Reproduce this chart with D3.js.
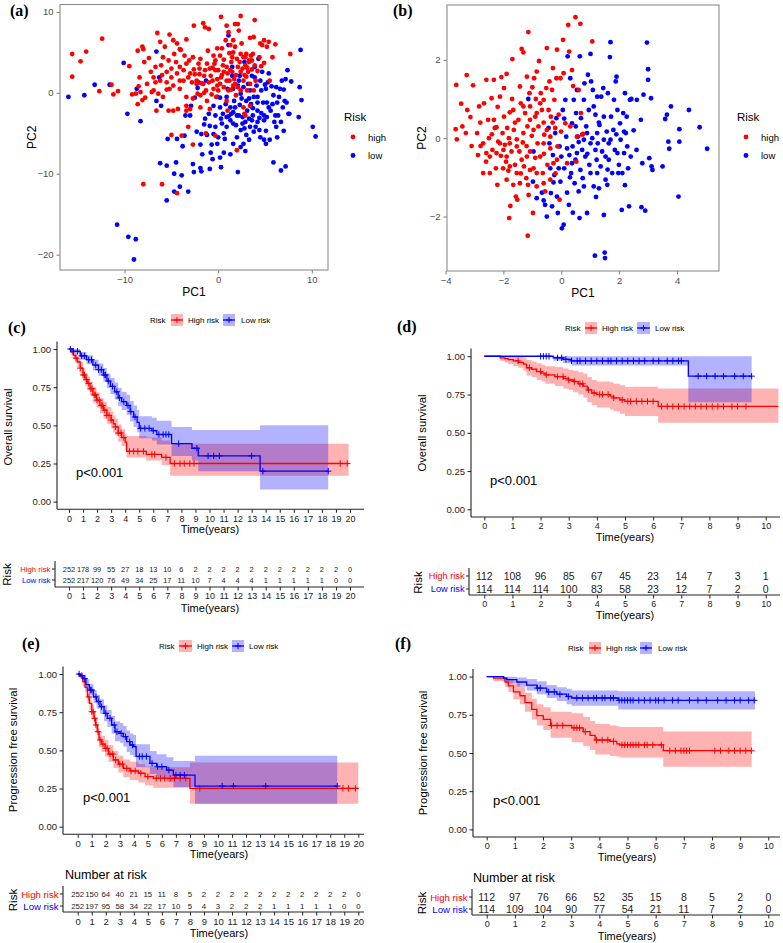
<!DOCTYPE html>
<html><head><meta charset="utf-8">
<script src="https://cdn.jsdelivr.net/npm/d3@7"></script>
<style>body{margin:0;background:#fff}svg{display:block}</style>
</head><body><script>
// ---------- DATA ----------
const riskGroups = ["high","low"];
const aHigh = [[-15.6,4.8],[-14.7,3.9],[-14.1,5.1],[-15.6,2.0],[-12.4,6.7],[-12.7,0.2],[-11.4,1.0],[-11.2,-0.2],[-10.7,0.2],[-9.5,3.3],[-9.2,-0.2],[-8.8,-0.1],[-8.6,5.2],[-8.5,0.8],[-8.4,1.9],[-8.3,0.1],[-8.6,-1.4],[-8.1,-0.9],[-8.1,5.7],[-7.9,3.8],[-8.0,5.4],[-7.2,2.6],[-7.4,4.3],[-7.1,0.1],[-6.9,0.3],[-6.7,1.3],[-6.5,7.4],[-6.4,-0.1],[-6.2,6.3],[-6.1,3.4],[-5.9,-0.5],[-5.7,5.7],[-5.5,2.6],[-5.3,4.0],[-5.2,7.2],[-5.2,0.5],[-5.5,1.3],[-5.0,1.9],[-4.8,-2.2],[-5.0,-5.2],[-4.7,4.8],[-4.4,6.1],[-4.5,3.8],[-4.3,-2.0],[-4.1,3.2],[-4.1,1.5],[-4.0,5.3],[-3.9,-5.3],[-3.7,2.8],[-3.6,4.6],[-3.4,6.6],[-3.4,-1.6],[-3.2,-4.2],[-3.1,4.0],[-3.0,-2.0],[-2.8,1.3],[-2.7,-0.7],[-2.6,8.3],[-2.5,2.3],[-2.3,1.1],[-2.1,3.6],[-2.0,2.3],[-1.9,-1.8],[-1.8,1.2],[-1.6,8.6],[-1.5,2.1],[-1.4,8.1],[-1.3,0.3],[-1.2,3.6],[-1.1,5.2],[-1.0,7.9],[-1.0,1.3],[-0.9,-2.0],[-0.8,2.1],[-0.6,3.1],[-0.5,0.5],[-0.3,4.0],[-0.2,-0.5],[-0.1,1.7],[0.0,2.8],[0.2,4.6],[0.3,9.4],[0.4,5.5],[0.5,3.4],[0.6,0.7],[0.8,6.5],[0.9,1.5],[0.9,8.3],[1.0,-2.2],[1.1,7.5],[1.1,0.3],[1.3,5.9],[1.4,3.8],[1.5,2.6],[1.6,0.9],[1.6,5.0],[1.7,1.7],[1.8,8.5],[1.9,-0.3],[2.0,-7.1],[2.1,3.2],[2.1,8.5],[2.2,7.7],[2.4,9.5],[2.4,4.8],[2.5,6.1],[2.7,4.4],[2.7,1.5],[2.8,-2.6],[2.9,3.4],[3.0,4.8],[3.1,0.3],[3.2,2.6],[3.3,3.8],[3.4,1.1],[3.4,6.8],[3.5,4.6],[3.6,2.9],[3.7,4.8],[3.8,0.3],[3.9,9.0],[4.0,1.5],[4.2,2.7],[4.7,5.9],[4.9,3.7],[4.9,6.5],[5.2,5.7],[5.4,6.3],[5.5,1.5],[7.7,4.8],[-8.0,-11.3],[-6.0,-11.3],[-4.4,-12.4],[-2.7,-6.4],[-1.3,-5.0],[-0.3,-5.3],[2.9,-2.8],[-0.6,1.5],[-0.1,0.9],[0.3,1.9],[0.6,2.6],[1.2,1.5],[1.3,2.8],[1.8,1.1],[2.3,3.8],[2.4,2.6],[2.6,3.0],[2.9,4.4],[3.3,4.0],[3.6,4.0],[2.4,0.3],[1.8,5.7],[1.5,4.4],[0.9,3.2],[0.2,1.1],[-0.3,2.8],[-0.9,3.0],[-1.6,1.1],[-2.3,1.5],[-3.2,1.9],[-3.7,1.5],[-4.1,0.5],[-4.8,0.9],[-5.5,0.4],[-6.2,1.5],[-6.9,1.9],[-5.9,4.4],[-6.7,3.2],[-3.4,3.6],[-2.7,4.4],[-1.9,4.2],[-0.5,4.6],[-0.1,5.5],[1.6,6.5],[3.8,6.9],[4.5,6.1],[-3.4,-2.2],[-1.9,-0.3],[-1.2,-1.0],[0.9,-1.0],[2.7,-1.8],[3.4,-1.6],[-3.4,-0.5],[-5.3,-2.2],[-6.6,-2.2],[-4.1,5.4],[-4.8,6.5],[0.4,2.2],[1.0,2.4],[1.9,2.2],[2.0,4.2],[2.8,2.2],[3.1,3.1],[3.9,3.4],[4.4,4.4],[1.2,4.9],[0.6,4.1],[-0.4,3.6],[-1.4,2.8],[-2.0,3.0],[-2.6,2.9],[-3.0,2.4],[-4.4,2.4],[-5.0,3.0],[-6.0,2.2],[-7.6,1.1],[-7.8,-0.6],[1.4,0.4],[2.1,0.7],[0.0,0.3],[-0.7,-0.2],[-1.5,0.0],[-2.2,-0.1],[3.0,2.0],[4.6,3.3],[5.8,4.4],[6.1,6.0]];
const aLow = [[-16.0,-0.5],[-14.3,-0.3],[-13.2,1.0],[-11.6,1.0],[-10.1,3.7],[-9.7,-2.6],[-8.7,0.5],[-8.3,-3.5],[-10.8,-16.3],[-9.6,-17.8],[-8.8,-18.1],[-9.0,-20.6],[-6.6,-1.0],[-6.6,5.1],[-6.3,1.9],[-6.1,-1.6],[-5.4,-5.7],[-6.2,-8.7],[-5.5,-9.0],[-4.7,-10.0],[-4.5,-8.6],[-3.9,-10.2],[-4.7,-12.2],[-4.1,-11.6],[-5.5,-13.3],[-3.2,-12.2],[-4.4,-5.7],[-3.6,-5.3],[-3.5,-2.8],[-3.8,-6.6],[-3.0,-2.8],[-2.9,-1.6],[-2.7,-8.8],[-2.6,-9.8],[-1.9,-9.3],[-1.8,-9.7],[-2.5,-0.6],[-2.2,0.6],[-2.1,1.3],[-1.8,-5.1],[-1.7,-7.6],[-1.5,-3.9],[-1.4,-3.2],[-1.3,1.5],[-1.2,-5.2],[-0.9,-9.4],[-0.8,-7.4],[-0.7,-6.4],[-0.6,-8.2],[-0.5,-5.1],[-0.3,-4.2],[-0.3,-2.8],[-0.1,-0.5],[-0.1,-6.3],[0.0,-5.5],[0.2,-0.6],[0.3,-9.2],[0.4,-3.8],[0.5,-2.6],[0.6,-7.4],[0.6,-5.0],[0.9,-3.0],[0.9,-0.5],[1.0,0.5],[1.1,7.1],[1.1,5.9],[1.3,-3.4],[1.4,-2.6],[1.5,2.1],[1.5,3.2],[1.6,0.5],[1.7,-1.0],[1.8,-1.8],[1.9,-4.0],[2.0,-5.5],[2.1,-9.8],[2.1,0.9],[2.2,-2.8],[2.3,2.1],[2.4,-0.1],[2.4,-6.7],[2.5,-0.7],[2.6,-3.8],[2.7,-6.3],[2.8,3.8],[2.9,-7.2],[3.0,-5.2],[3.1,-2.2],[3.2,1.1],[3.3,-0.7],[3.3,-3.2],[3.4,-4.2],[3.5,-1.4],[3.6,2.1],[3.7,-2.8],[3.8,-0.5],[3.9,3.2],[4.0,-4.2],[4.1,0.9],[4.2,-2.2],[4.2,-1.2],[4.3,4.2],[4.4,-3.1],[4.5,-5.5],[4.6,0.3],[4.7,2.6],[4.8,-1.2],[4.9,-5.8],[4.9,-2.8],[5.1,-4.7],[5.1,-6.3],[5.2,-1.2],[5.3,1.3],[5.4,2.4],[5.5,-5.8],[5.7,0.8],[5.8,-1.4],[5.9,-8.6],[5.9,-0.3],[6.1,-2.8],[6.2,0.7],[6.2,-4.2],[6.3,-5.5],[6.4,-2.8],[6.5,-0.5],[6.6,0.5],[6.7,-9.6],[6.7,-3.6],[6.8,1.5],[6.9,-1.8],[7.0,-4.7],[7.1,-1.0],[7.2,-9.1],[7.2,1.7],[7.3,-1.2],[7.4,2.8],[7.5,-2.6],[7.6,-2.6],[7.8,1.4],[8.6,-3.0],[8.7,0.7],[8.8,5.3],[8.9,-0.9],[10.1,-4.2],[10.4,-5.4],[1.6,-2.4],[1.3,-1.8],[2.0,-2.8],[2.6,-3.0],[2.9,-3.6],[3.6,-3.4],[4.2,-3.6],[4.9,-3.4],[5.2,-3.0],[5.6,-2.2],[4.2,-0.5],[3.4,0.3],[2.7,0.7],[2.2,1.5],[4.5,1.5],[5.1,0.5],[0.8,-1.4],[0.2,-1.8],[-0.5,-1.6],[1.6,-3.8],[0.9,-4.2],[2.4,-4.6],[3.8,-4.8],[3.3,-5.8],[1.6,-6.3],[1.3,-7.6],[0.2,-8.0],[-1.9,-6.4],[-2.3,-4.8],[-1.0,-2.6],[3.0,-1.0],[3.7,-1.9],[4.6,-2.5],[5.4,-1.8],[6.0,-3.6],[2.3,-1.5],[1.1,-2.9],[0.3,-3.2],[3.9,1.9],[5.0,1.0],[6.3,-1.2],[7.0,0.4],[2.8,-4.4],[4.4,-4.6],[0.7,-5.7],[-0.9,-4.1]];
const bHigh = [[-3.63,1.36],[-3.61,-0.03],[-3.65,0.23],[-3.46,0.88],[-3.42,0.30],[-3.30,0.13],[-3.27,1.61],[-3.25,0.72],[-3.14,0.54],[-3.05,1.35],[-2.91,0.13],[-2.88,-0.43],[-2.84,0.81],[-2.79,-0.20],[-2.70,-0.89],[-2.67,0.89],[-2.59,1.49],[-2.53,0.47],[-2.50,0.0],[-2.47,-0.89],[-2.41,1.02],[-2.38,-0.30],[-2.33,1.49],[-2.30,0.26],[-2.26,-0.77],[-2.24,0.28],[-2.21,-1.19],[-2.18,-0.09],[-2.12,1.06],[-2.09,-0.45],[-2.07,1.56],[-2.03,0.13],[-2.01,-0.77],[-1.98,1.28],[-1.95,-0.17],[-1.91,-0.60],[-1.89,1.64],[-1.87,0.26],[-1.83,-0.83],[-1.81,0.0],[-1.80,-2.04],[-1.78,0.66],[-1.76,-1.73],[-1.72,-0.34],[-1.69,2.02],[-1.66,-1.19],[-1.64,0.21],[-1.60,-0.68],[-1.57,-1.49],[-1.54,-0.03],[-1.52,-1.57],[-1.48,0.47],[-1.45,-0.34],[-1.43,1.32],[-1.40,0.89],[-1.37,2.28],[-1.33,-0.11],[-1.31,2.19],[-1.29,-0.72],[-1.25,0.64],[-1.21,-1.02],[-1.19,1.57],[-1.17,0.30],[-1.15,-1.19],[-1.14,2.71],[-1.13,-1.45],[-1.10,1.15],[-1.08,-0.34],[-1.16,-2.49],[-1.02,0.06],[-0.98,-1.91],[-0.96,-0.77],[-0.94,1.53],[-0.90,0.55],[-0.88,1.00],[-0.85,1.70],[-0.82,-0.13],[-0.79,0.30],[-0.77,1.97],[-0.73,-0.47],[-0.71,1.15],[-0.67,0.72],[-0.64,-0.89],[-0.61,0.40],[-0.59,0.09],[-0.56,-1.36],[-0.52,1.28],[-0.50,2.30],[-0.48,-0.68],[-0.44,0.72],[-0.41,1.45],[-0.38,-0.26],[-0.36,0.55],[-0.32,1.23],[-0.29,1.79],[-0.27,-0.64],[-0.24,0.98],[-0.21,0.26],[-0.17,1.53],[-0.15,2.26],[-0.13,-0.21],[-0.09,0.60],[-0.06,-1.57],[-0.03,1.53],[-0.01,0.17],[0.06,2.51],[0.08,1.66],[0.14,0.38],[0.20,-0.64],[0.24,2.89],[0.27,2.21],[0.31,0.30],[0.37,1.74],[0.41,1.33],[0.49,3.09],[0.52,-0.60],[0.60,1.23],[0.66,2.92],[0.68,0.64],[0.72,0.09],[0.75,0.11],[1.07,2.47],[0.54,0.04],[-2.47,-0.47],[-2.24,-0.38],[-1.89,-0.47],[-1.78,-0.72],[-1.54,-0.89],[-1.37,-0.55],[-1.19,-0.47],[-1.08,-0.81],[-0.85,-0.89],[-1.31,0.13],[-1.08,0.47],[-0.85,0.64],[-0.73,0.89],[-0.61,0.98],[-0.50,0.21],[-0.38,0.04],[-0.96,0.21],[-1.54,-0.21],[-1.78,-0.13],[-2.12,-0.13],[-2.70,-0.13],[-2.59,-0.38],[-2.33,0.47],[-1.98,0.55],[-1.66,0.72],[-1.31,0.81],[-1.08,0.81],[-0.61,-0.13],[-0.15,-0.55],[-0.38,-1.06],[-0.61,-1.15],[-0.85,-1.23],[-1.43,-1.15],[-1.89,-1.06],[-2.0,-0.3],[-1.6,0.4],[-1.2,-0.2],[-0.9,-0.5],[-2.4,0.1],[-2.8,0.4],[-3.1,-0.2],[-1.7,1.0],[-0.3,0.4],[-0.6,-0.4],[-1.0,1.3],[-2.2,0.8],[-1.4,-0.9],[-0.2,-0.9],[-2.6,-0.6]];
const bLow = [[-1.14,1.00],[-0.96,-0.34],[-0.98,-1.11],[-0.85,-1.53],[-0.67,-1.39],[-0.61,-1.59],[-0.56,-1.70],[-0.50,-2.00],[-0.44,0.26],[-0.41,-0.13],[-0.38,-0.77],[-0.36,-1.40],[-0.32,-1.74],[-0.29,-0.43],[-0.27,-1.13],[-0.24,-0.94],[-0.21,0.13],[-0.17,0.51],[-0.15,-1.49],[-0.12,-1.91],[-0.09,-0.77],[-0.06,-0.21],[-0.03,-1.11],[0.0,-0.47],[0.02,-2.30],[0.05,0.72],[0.08,-2.21],[0.10,-0.77],[0.14,0.98],[0.17,0.04],[0.20,-1.39],[0.22,2.09],[0.26,-1.70],[0.28,-0.43],[0.31,1.53],[0.34,-0.89],[0.37,0.38],[0.39,-0.21],[0.43,0.98],[0.46,-1.15],[0.49,-0.55],[0.51,0.64],[0.54,1.23],[0.57,0.04],[0.60,-1.36],[0.63,-2.04],[0.64,2.09],[0.66,-0.81],[0.68,0.51],[0.72,-0.30],[0.74,-1.02],[0.78,0.98],[0.80,1.40],[0.83,-0.47],[0.86,0.30],[0.89,-1.91],[0.92,1.62],[0.95,0.72],[0.97,-0.68],[1.01,2.15],[1.03,1.45],[1.07,0.0],[1.09,1.23],[1.12,-1.23],[1.16,-3.00],[1.18,0.60],[1.22,-0.55],[1.24,1.06],[1.26,-0.13],[1.30,-1.28],[1.32,0.34],[1.36,-0.72],[1.38,1.06],[1.41,-0.34],[1.45,1.28],[1.47,-1.96],[1.50,-2.92],[1.51,-3.06],[1.53,-1.06],[1.57,0.17],[1.59,-1.19],[1.61,1.15],[1.64,-0.55],[1.68,2.07],[1.70,2.45],[1.72,0.55],[1.76,-0.89],[1.80,0.21],[1.82,0.98],[1.85,-0.30],[1.88,1.45],[1.91,1.57],[1.94,0.72],[1.97,-0.89],[1.99,-0.68],[2.03,0.38],[2.05,-0.04],[2.09,-1.83],[2.11,-0.89],[2.14,0.64],[2.17,0.17],[2.20,1.15],[2.23,0.13],[2.26,0.55],[2.28,-0.21],[2.31,-0.77],[2.34,-1.74],[2.37,0.98],[2.40,-0.47],[2.42,1.00],[2.61,0.98],[2.75,0.47],[2.77,-1.76],[2.80,-0.64],[2.84,1.11],[2.90,-1.85],[2.96,2.44],[3.00,1.76],[3.00,1.49],[3.04,-0.51],[3.10,1.02],[3.12,-0.72],[3.15,-0.81],[3.50,-0.72],[3.59,0.49],[3.65,0.60],[3.70,-0.09],[3.73,-0.27],[3.79,0.81],[4.05,-1.49],[4.08,0.23],[4.08,-0.09],[4.41,0.72],[4.78,0.28],[5.04,-0.27],[0.20,-0.26],[0.37,-0.64],[0.54,-0.38],[0.78,-0.04],[1.01,-0.13],[0.89,0.13],[1.24,0.13],[1.47,-0.04],[1.64,-0.13],[1.18,-0.30],[1.53,-0.47],[1.01,-0.89],[1.24,-0.89],[0.78,-1.23],[1.70,-0.04],[1.94,-0.38],[1.47,0.55],[1.12,0.81],[2.17,-0.38],[0.3,-1.0],[0.6,-0.1],[0.9,-0.4],[1.3,0.4],[1.6,-0.8],[1.9,0.1],[2.5,0.2],[2.6,-0.3],[0.1,0.5],[0.5,0.3],[1.2,-1.5],[0.4,-1.9],[2.2,-1.2]];
const aXTicks = [-10,0,10], aYTicks = [-20,-10,0,10];
const bXTicks = [-4,-2,0,2,4], bYTicks = [-2,0,2];

const survTicks = [0,0.25,0.5,0.75,1];
const years20 = d3.range(0,21), years10 = d3.range(0,11);
// (c) overall survival, training set
const cHighT=[0,0.15,0.3,0.45,0.6,0.8,1.0,1.15,1.3,1.5,1.7,1.95,2.2,2.45,2.7,3.0,3.15,3.3,3.5,3.75,4.0,4.1,5.5,6.6,7.2];
const cHighS=[1,0.98,0.96,0.94,0.915,0.875,0.83,0.80,0.775,0.74,0.70,0.665,0.63,0.60,0.565,0.535,0.51,0.49,0.45,0.42,0.39,0.33,0.31,0.29,0.25];
const cHighLo=[1,0.96,0.935,0.91,0.88,0.84,0.79,0.76,0.73,0.695,0.65,0.615,0.58,0.545,0.51,0.48,0.455,0.435,0.395,0.365,0.335,0.29,0.27,0.24,0.17];
const cHighHi=[1,1,0.985,0.97,0.95,0.915,0.875,0.845,0.82,0.785,0.75,0.715,0.68,0.655,0.62,0.59,0.565,0.545,0.505,0.475,0.445,0.43,0.42,0.40,0.38];
const cHighEnd=19.9;
const cHighCens=[0.5,0.8,1.0,1.1,1.25,1.4,1.55,1.65,1.8,1.9,2.0,2.15,2.3,2.4,2.55,2.7,2.85,3.0,3.3,3.5,3.7,3.9,4.3,4.6,4.9,5.3,5.9,6.1,6.9,7.5,7.9,8.2,8.6,8.9,19.3,19.8];
const cLowT=[0,0.3,0.8,1.25,1.7,2.1,2.45,2.7,2.95,3.25,3.5,3.75,4.1,4.35,4.6,4.85,5.0,5.9,6.25,7.3,8.75,9.2,13.6];
const cLowS=[1,0.985,0.955,0.93,0.895,0.865,0.83,0.79,0.755,0.72,0.68,0.655,0.63,0.59,0.555,0.52,0.48,0.465,0.44,0.38,0.35,0.30,0.20];
const cLowLo=[1,0.97,0.93,0.90,0.86,0.825,0.785,0.745,0.705,0.67,0.625,0.60,0.57,0.525,0.49,0.455,0.415,0.40,0.375,0.30,0.27,0.20,0.08];
const cLowHi=[1,1,0.98,0.96,0.93,0.905,0.875,0.84,0.81,0.78,0.745,0.72,0.70,0.66,0.63,0.60,0.56,0.55,0.53,0.49,0.47,0.47,0.50];
const cLowEnd=18.45;
const cLowCens=[0.1,0.3,0.6,0.9,1.1,1.4,1.6,1.9,2.1,2.3,2.5,2.6,2.8,3.1,3.4,3.6,3.9,4.2,4.4,4.7,5.1,5.4,5.7,6.0,6.4,6.7,6.9,7.1,7.8,9.1,9.9,10.3,10.7,13.0,13.8,18.45];
const cRiskHigh=[252,178,99,55,27,18,13,10,6,2,2,2,2,2,2,2,2,2,2,2,0];
const cRiskLow=[252,217,120,76,49,34,25,17,11,10,7,4,4,4,1,1,1,1,1,0,0];
// (d) overall survival, validation set
const dHighT=[0,0.56,0.73,0.85,1.03,1.21,1.39,1.5,1.68,1.86,2.04,2.16,2.51,2.81,2.99,3.16,3.34,3.52,3.66,3.82,4.0,4.47,4.59,4.82,5.0,6.18];
const dHighS=[1,0.99,0.985,0.978,0.97,0.96,0.948,0.925,0.915,0.90,0.89,0.878,0.867,0.855,0.845,0.835,0.82,0.805,0.78,0.76,0.75,0.74,0.728,0.715,0.705,0.672];
const dHighLo=[1,0.97,0.96,0.95,0.935,0.925,0.905,0.875,0.865,0.845,0.835,0.82,0.805,0.79,0.78,0.765,0.75,0.73,0.70,0.68,0.665,0.65,0.64,0.625,0.61,0.565];
const dHighHi=[1,1,1,1,1,0.995,0.99,0.975,0.965,0.955,0.945,0.935,0.93,0.92,0.91,0.905,0.895,0.885,0.865,0.845,0.835,0.83,0.82,0.81,0.80,0.79];
const dHighEnd=10.45;
const dHighCens=[1.2,1.6,2.0,2.2,2.6,2.8,3.0,3.2,3.4,3.5,3.7,3.9,4.1,4.2,4.4,4.6,4.9,5.1,5.2,5.4,5.6,5.8,6.0,6.3,6.5,6.7,6.9,7.1,7.3,7.5,7.7,7.9,8.1,8.3,8.5,8.8,9.0,9.3];
const dLowT=[0,2.45,2.8,3.1,7.25];
const dLowS=[1,0.99,0.98,0.97,0.87];
const dLowLo=[1,0.97,0.955,0.94,0.70];
const dLowHi=[1,1,1,1,1];
const dLowEnd=9.5;
const dLowCens=[2.0,2.1,2.2,2.3,2.6,2.75,2.9,3.1,3.3,3.4,3.6,3.8,4.0,4.2,4.4,4.5,4.7,4.9,5.1,5.3,5.5,5.7,6.0,6.2,6.5,6.7,6.9,7.0,7.6,7.9,8.2,8.5,8.9,9.2,9.5];
const dRiskHigh=[112,108,96,85,67,45,23,14,7,3,1];
const dRiskLow=[114,114,114,100,83,58,23,12,7,2,0];
// (e) progression free survival, training set
const eHighT=[0,0.17,0.36,0.52,0.69,0.83,1.0,1.16,1.28,1.4,1.52,1.71,1.95,2.19,2.54,2.9,3.25,3.73,4.32,4.8,5.39,8.0];
const eHighS=[1,0.985,0.95,0.913,0.85,0.808,0.753,0.71,0.666,0.622,0.568,0.541,0.513,0.476,0.437,0.41,0.382,0.365,0.35,0.328,0.317,0.251];
const eHighLo=[1,0.97,0.92,0.88,0.81,0.765,0.71,0.665,0.62,0.575,0.52,0.49,0.46,0.425,0.385,0.355,0.325,0.305,0.29,0.27,0.255,0.15];
const eHighHi=[1,1,0.98,0.95,0.89,0.85,0.80,0.76,0.715,0.67,0.62,0.595,0.57,0.535,0.495,0.465,0.44,0.425,0.41,0.395,0.39,0.42];
const eHighEnd=20;
const eHighCens=[0.8,1.0,1.1,1.2,1.3,1.45,1.6,1.8,2.0,2.1,2.3,2.5,2.7,3.0,3.2,3.5,3.8,4.1,4.5,5.0,5.6,5.9,6.2,6.6,6.9,7.3,7.7,8.7,18.9,19.3,19.8];
const eLowT=[0,0.17,0.36,0.59,0.83,1.12,1.35,1.59,1.88,2.11,2.42,2.66,3.02,3.25,3.49,3.73,3.97,4.16,5.15,5.63,6.34,6.82,8.36];
const eLowS=[1,0.99,0.97,0.93,0.895,0.85,0.82,0.786,0.742,0.71,0.666,0.622,0.611,0.59,0.557,0.535,0.524,0.46,0.415,0.393,0.371,0.338,0.266];
const eLowLo=[1,0.975,0.945,0.90,0.86,0.81,0.775,0.74,0.69,0.655,0.61,0.56,0.55,0.525,0.49,0.47,0.455,0.39,0.345,0.32,0.295,0.26,0.15];
const eLowHi=[1,1,0.995,0.965,0.935,0.895,0.865,0.835,0.795,0.765,0.725,0.69,0.68,0.66,0.63,0.61,0.60,0.54,0.495,0.475,0.455,0.43,0.465];
const eLowEnd=18.5;
const eLowCens=[0.1,0.3,0.5,0.9,1.0,1.3,1.5,1.7,2.0,2.3,2.6,2.8,3.1,3.4,3.7,3.9,4.4,4.6,4.9,5.3,5.7,6.0,6.5,7.0,7.3,7.6,10.3,11.1,13.4,18.5];
const eRiskHigh=[252,150,64,40,21,15,11,8,5,2,2,2,2,2,2,2,2,2,2,2,0];
const eRiskLow=[252,197,95,58,34,22,17,10,5,4,3,2,2,2,1,1,1,1,1,0,0];
// (f) progression free survival, validation set
const fHighT=[0,0.24,0.65,0.77,0.95,1.18,1.36,1.6,1.78,2.01,2.27,3.02,3.43,3.67,3.85,4.38,4.62,4.73,6.27];
const fHighS=[1,0.99,0.965,0.94,0.90,0.875,0.83,0.785,0.745,0.72,0.68,0.665,0.64,0.615,0.585,0.576,0.56,0.553,0.515];
const fHighLo=[1,0.97,0.93,0.90,0.85,0.82,0.77,0.72,0.68,0.65,0.60,0.57,0.545,0.52,0.49,0.48,0.475,0.47,0.41];
const fHighHi=[1,1,0.995,0.985,0.955,0.935,0.895,0.855,0.82,0.80,0.77,0.76,0.735,0.71,0.69,0.68,0.675,0.67,0.64];
const fHighEnd=9.41;
const fHighCens=[2.3,2.5,2.7,3.1,3.2,3.3,3.5,3.9,4.1,4.3,4.5,4.8,4.9,5.0,5.1,5.2,5.3,5.4,5.6,5.7,5.9,6.2,6.5,6.7,6.9,7.0,7.1,7.2,8.1,8.3,8.6,8.8,9.0,9.2,9.4];
const fLowT=[0,0.6,0.71,1.07,1.42,1.78,2.13,2.49,2.84,3.02,4.67];
const fLowS=[1,0.99,0.98,0.965,0.945,0.925,0.90,0.885,0.87,0.86,0.845];
const fLowLo=[1,0.97,0.955,0.935,0.91,0.885,0.86,0.84,0.82,0.81,0.785];
const fLowHi=[1,1,1,0.995,0.985,0.97,0.945,0.93,0.92,0.91,0.905];
const fLowEnd=9.53;
const fLowCens=[1.8,1.9,2.2,2.4,2.6,2.9,3.2,3.4,3.6,3.8,3.9,4.1,4.2,4.4,4.5,4.7,4.8,4.9,5.0,5.1,5.2,5.4,5.6,5.8,6.0,6.1,6.3,6.6,6.8,7.2,7.5,7.8,8.2,8.5,8.8,9.0,9.3,9.5];
const fRiskHigh=[112,97,76,66,52,35,15,8,5,2,0];
const fRiskLow=[114,109,104,90,77,54,21,11,7,2,0];

// ---------- DRAWING ----------
const SANS = '"Liberation Sans", Arial, sans-serif';
const SERIF = '"Liberation Serif", "Times New Roman", serif';
const RED = '#FF0000', BLUE = '#0000FF';
const svg = d3.select('body').append('svg').attr('width',783).attr('height',943)
  .style('font-family', SANS);

function txt(g, x, y, s, o={}) {
  const t = g.append('text').attr('x',x).attr('y',y).text(s)
    .attr('font-size', o.size||10).attr('fill', o.fill||'#000')
    .attr('text-anchor', o.anchor||'start').attr('dominant-baseline', o.base||'central')
    .attr('font-family', o.family||SANS);
  if (o.weight) t.attr('font-weight', o.weight);
  if (o.rot) t.attr('transform', `rotate(${o.rot},${x},${y})`);
  return t;
}

function drawScatter(o) {
  const g = svg.append('g');
  const x = d3.scaleLinear().domain(o.xDom).range([o.L, o.R]);
  const y = d3.scaleLinear().domain(o.yDom).range([o.B, o.T]);
  const clipId = 'clip' + o.id;
  g.append('clipPath').attr('id', clipId).append('rect')
    .attr('x', o.L).attr('y', o.T).attr('width', o.R-o.L).attr('height', o.B-o.T);
  const fmt = d3.format('~g');
  const ax = g.append('g').attr('transform', `translate(0,${o.B})`)
    .call(d3.axisBottom(x).tickValues(o.xTicks).tickFormat(fmt).tickSize(3.5).tickPadding(3));
  const ay = g.append('g').attr('transform', `translate(${o.L},0)`)
    .call(d3.axisLeft(y).tickValues(o.yTicks).tickFormat(fmt).tickSize(3.5).tickPadding(3));
  [ax, ay].forEach(a => {
    a.attr('font-family', SANS).attr('font-size', 9.5);
    a.select('.domain').remove();
    a.selectAll('line').attr('stroke', '#7a7a7a');
    a.selectAll('text').attr('fill', '#4d4d4d');
  });
  const pg = g.append('g').attr('clip-path', `url(#${clipId})`);
  pg.selectAll('circle.lo').data(o.low).join('circle')
    .attr('cx', d => x(d[0])).attr('cy', d => y(d[1])).attr('r', 2.4).attr('fill', BLUE);
  pg.selectAll('circle.hi').data(o.high).join('circle')
    .attr('cx', d => x(d[0])).attr('cy', d => y(d[1])).attr('r', 2.4).attr('fill', RED);
  g.append('rect').attr('x', o.L).attr('y', o.T).attr('width', o.R-o.L).attr('height', o.B-o.T)
    .attr('fill', 'none').attr('stroke', '#8c8c8c').attr('stroke-width', 1.1);
  txt(g, (o.L+o.R)/2, o.B+22, 'PC1', {size:12, anchor:'middle'});
  txt(g, o.ytX, (o.T+o.B)/2, 'PC2', {size:12, anchor:'middle', rot:-90});
  // legend
  txt(g, o.legX, 117, 'Risk', {size:11.5});
  riskGroups.forEach((k, i) => {
    const yy = 137 + i*18.5;
    g.append('circle').attr('cx', o.legX+9).attr('cy', yy).attr('r', 2.4).attr('fill', i ? BLUE : RED);
    txt(g, o.legX+24, yy, k, {size:9.5});
  });
  txt(g, o.lab[0], o.lab[1], o.label, {size:16, weight:'bold', family:SERIF, base:'alphabetic'});
}

drawScatter({id:'a', L:60, R:328, T:4.5, B:270, xDom:[-16.9,11.73], yDom:[-21.9,10.92],
  xTicks:aXTicks, yTicks:aYTicks, high:aHigh, low:aLow, ytX:32, legX:344, label:'(a)', lab:[10,16]});
drawScatter({id:'b', L:447, R:719, T:5, B:271, xDom:[-3.95,5.45], yDom:[-3.39,3.40],
  xTicks:bXTicks, yTicks:bYTicks, high:bHigh, low:bLow, ytX:422, legX:737, label:'(b)', lab:[393,16]});

function survAt(T, S, t) {
  let i = d3.bisectRight(T, t) - 1; if (i < 0) i = 0; return S[i];
}
function plusPath(cx, cy, r) { return `M${cx-r},${cy}H${cx+r}M${cx},${cy-r}V${cy+r}`; }

function drawKM(c) {
  const g = svg.append('g');
  const x = d3.scaleLinear().domain(c.xDom).range(c.xRange);
  const y = d3.scaleLinear().domain([-0.05, 1.05]).range(c.yRange);
  const groups = [
    {col:RED, fill:'rgba(255,0,0,0.3)', T:c.h[0], S:c.h[1], Lo:c.h[2], Hi:c.h[3], end:c.h[4], cens:c.h[5], risk:c.h[6], name:'High risk'},
    {col:BLUE, fill:'rgba(0,0,255,0.3)', T:c.l[0], S:c.l[1], Lo:c.l[2], Hi:c.l[3], end:c.l[4], cens:c.l[5], risk:c.l[6], name:'Low risk'}
  ];
  const area = d3.area().x(d => x(d.t)).y0(d => y(d.lo)).y1(d => y(d.hi)).curve(d3.curveStepAfter);
  const line = d3.line().x(d => x(d.t)).y(d => y(d.s)).curve(d3.curveStepAfter);
  groups.forEach(gr => {
    const pts = gr.T.map((t, i) => ({t, lo:gr.Lo[i], hi:gr.Hi[i]}));
    pts.push({t:gr.end, lo:gr.Lo[gr.Lo.length-1], hi:gr.Hi[gr.Hi.length-1]});
    g.append('path').attr('d', area(pts)).attr('fill', gr.fill);
  });
  groups.forEach(gr => {
    const pts = gr.T.map((t, i) => ({t, s:gr.S[i]}));
    pts.push({t:gr.end, s:gr.S[gr.S.length-1]});
    g.append('path').attr('d', line(pts)).attr('fill', 'none').attr('stroke', gr.col).attr('stroke-width', 1.3);
    g.append('path').attr('d', gr.cens.map(t => plusPath(x(t), y(survAt(gr.T, gr.S, t)), 3.2)).join(''))
      .attr('stroke', gr.col).attr('stroke-width', 1).attr('fill', 'none');
  });
  // axes
  const yb = c.yRange[0];
  const ax = g.append('g').attr('transform', `translate(0,${yb})`)
    .call(d3.axisBottom(x).tickValues(c.ticks).tickSize(3.5).tickPadding(2.5));
  const ay = g.append('g').attr('transform', `translate(${c.axisX[0]},0)`)
    .call(d3.axisLeft(y).tickValues(survTicks).tickFormat(d3.format('.2f')).tickSize(3.5).tickPadding(2.5));
  [ax, ay].forEach(a => {
    a.attr('font-family', SANS).attr('font-size', c.tickSize);
    a.select('.domain').remove();
    a.selectAll('text').attr('fill', '#222');
    a.selectAll('line').attr('stroke', '#222');
  });
  ay.attr('font-size', 9.5);
  g.append('line').attr('x1', c.axisX[0]).attr('x2', c.axisX[1]).attr('y1', yb).attr('y2', yb).attr('stroke', '#222').attr('stroke-width', 1.1);
  g.append('line').attr('x1', c.axisX[0]).attr('x2', c.axisX[0]).attr('y1', c.yRange[1]).attr('y2', yb).attr('stroke', '#222').attr('stroke-width', 1.1);
  txt(g, c.titleX, c.timeY, 'Time(years)', {size:11, anchor:'middle'});
  txt(g, c.ytitle[0], c.ytitle[1], c.ylab, {size:11.3, anchor:'middle', rot:-90});
  txt(g, c.pv[0], c.pv[1], 'p<0.001', {size:13});
  // legend
  const L = c.leg;
  txt(g, L.risk, L.y, 'Risk', {size:8});
  [[L.hk, L.ht], [L.lk, L.lt]].forEach((k, i) => {
    const gr = groups[i];
    const x0 = k[0][0], x1 = k[0][1];
    g.append('rect').attr('x', x0).attr('y', L.y-6).attr('width', x1-x0).attr('height', 12).attr('fill', gr.fill);
    g.append('line').attr('x1', x0).attr('x2', x1).attr('y1', L.y).attr('y2', L.y).attr('stroke', gr.col).attr('stroke-width', 1.3);
    g.append('path').attr('d', plusPath((x0+x1)/2, L.y, 3)).attr('stroke', gr.col).attr('stroke-width', 1);
    txt(g, k[1], L.y, gr.name, {size:8});
  });
  // panel label
  txt(g, c.lab[0], c.lab[1], c.label, {size:16, weight:'bold', family:SERIF, base:'alphabetic'});
  // risk table
  const R = c.tab;
  if (R.header) txt(g, R.header[0], R.header[1], 'Number at risk', {size:12.6});
  const tx = g.append('g').attr('transform', `translate(0,${R.axisY})`)
    .call(d3.axisBottom(x).tickValues(c.ticks).tickSize(3.5).tickPadding(2.5));
  tx.attr('font-family', SANS).attr('font-size', c.tickSize);
  tx.select('.domain').remove();
  tx.selectAll('text').attr('fill', '#222'); tx.selectAll('line').attr('stroke', '#222');
  g.append('line').attr('x1', R.axX).attr('x2', c.axisX[1]).attr('y1', R.axisY).attr('y2', R.axisY).attr('stroke', '#222').attr('stroke-width', 1.1);
  g.append('line').attr('x1', R.axX).attr('x2', R.axX).attr('y1', R.rows[0]-8).attr('y2', R.axisY).attr('stroke', '#222').attr('stroke-width', 1.1);
  groups.forEach((gr, i) => {
    const yy = R.rows[i];
    g.append('line').attr('x1', R.axX-3).attr('x2', R.axX).attr('y1', yy).attr('y2', yy).attr('stroke', '#222');
    txt(g, R.axX-4.5, yy, gr.name, {size:R.labSize, anchor:'end', fill:gr.col});
    gr.risk.forEach((v, j) => txt(g, x(c.ticks[j]), yy, v, {size:R.numSize, anchor:'middle', fill:'#222'}));
  });
  txt(g, R.riskX, (R.rows[0]+R.rows[1])/2, 'Risk', {size:11.5, anchor:'middle', rot:-90});
  txt(g, c.titleX, R.timeY, 'Time(years)', {size:11, anchor:'middle'});
}

drawKM({
  xDom:[0,20], xRange:[69,350], yRange:[509.3,341.4], axisX:[57,364], ticks:years20, tickSize:9,
  h:[cHighT,cHighS,cHighLo,cHighHi,cHighEnd,cHighCens,cRiskHigh],
  l:[cLowT,cLowS,cLowLo,cLowHi,cLowEnd,cLowCens,cRiskLow],
  titleX:210, timeY:529, ytitle:[8,427], ylab:'Overall survival', pv:[76,472],
  leg:{y:320, risk:150, hk:[171,183], ht:188, lk:[223,235], lt:241},
  label:'(c)', lab:[8,333],
  tab:{rows:[569,580], axisY:587, axX:55, labSize:7.8, numSize:7.4, riskX:7, timeY:608}
});
drawKM({
  xDom:[0,10], xRange:[484.3,765.7], yRange:[517,348.6], axisX:[471,780], ticks:years10, tickSize:9,
  h:[dHighT,dHighS,dHighLo,dHighHi,dHighEnd,dHighCens,dRiskHigh],
  l:[dLowT,dLowS,dLowLo,dLowHi,dLowEnd,dLowCens,dRiskLow],
  titleX:625, timeY:537, ytitle:[422,433], ylab:'Overall survival', pv:[490,480],
  leg:{y:328, risk:565, hk:[585,597], ht:602, lk:[637,650], lt:655},
  label:'(d)', lab:[397,332],
  tab:{rows:[576,589], axisY:595, axX:469, labSize:9.2, numSize:10.5, riskX:418, timeY:615}
});
drawKM({
  xDom:[0,20], xRange:[77.7,358.3], yRange:[834.3,666.4], axisX:[63,364], ticks:years20, tickSize:9.5,
  h:[eHighT,eHighS,eHighLo,eHighHi,eHighEnd,eHighCens,eRiskHigh],
  l:[eLowT,eLowS,eLowLo,eLowHi,eLowEnd,eLowCens,eRiskLow],
  titleX:219, timeY:854, ytitle:[13,750], ylab:'Progression free survival', pv:[83,797],
  leg:{y:646, risk:159, hk:[179,192], ht:197, lk:[232,244], lt:249},
  label:'(e)', lab:[22,649],
  tab:{header:[65,875], rows:[894,906], axisY:912, axX:63, labSize:9.6, numSize:7.8, riskX:13, timeY:933}
});
drawKM({
  xDom:[0,10], xRange:[486.7,768.3], yRange:[837,669], axisX:[473,780], ticks:years10, tickSize:9,
  h:[fHighT,fHighS,fHighLo,fHighHi,fHighEnd,fHighCens,fRiskHigh],
  l:[fLowT,fLowS,fLowLo,fLowHi,fLowEnd,fLowCens,fRiskLow],
  titleX:627, timeY:857, ytitle:[423,753], ylab:'Progression free survival', pv:[493,800],
  leg:{y:648, risk:568, hk:[589,601], ht:606, lk:[640,652], lt:658},
  label:'(f)', lab:[395,649],
  tab:{header:[473,878], rows:[897,909], axisY:915, axX:472, labSize:9.6, numSize:10.5, riskX:422, timeY:936}
});
</script></body></html>
